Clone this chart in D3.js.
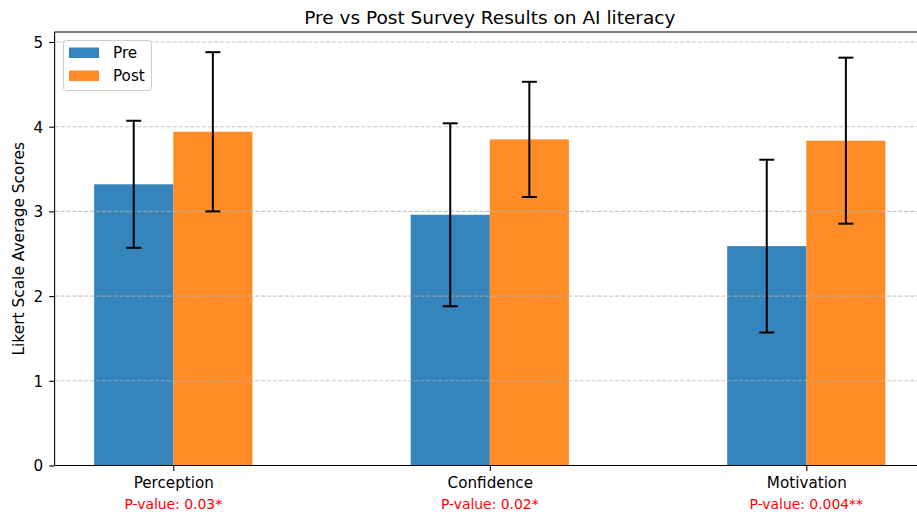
<!DOCTYPE html>
<html>
<head>
<meta charset="utf-8">
<script src="https://cdn.jsdelivr.net/npm/d3@7"></script>
<style>
  html, body { margin: 0; padding: 0; background: #fff; overflow: hidden; }
  svg { display: block; font-family: "DejaVu Sans", sans-serif; }
</style>
</head>
<body>
<svg id="chart" width="917" height="515"></svg>
<script>
// Survey categories and their p-value annotations
const categories = ["Perception", "Confidence", "Motivation"];
const pLabels = ["P-value: 0.03*", "P-value: 0.02*", "P-value: 0.004**"];

// Mean Likert scores and standard deviations
const preMeans = [3.32, 2.96, 2.59];
const preSD = [0.75, 1.08, 1.02];
const postMeans = [3.94, 3.85, 3.835];
const postSD = [0.94, 0.68, 0.98];

const yTicks = [0, 1, 2, 3, 4, 5];
const seriesNames = ["Pre", "Post"];

const colors = { Pre: "#1f77b4", Post: "#ff7f0e" };
const barWidth = 0.25;

const svg = d3.select("#chart");
const plotL = 54.6, plotR = 925, plotT = 32, plotB = 465.5;
const tickFont = 15.2;

// numeric band positions, matplotlib-style margins
const x = d3.scaleLinear().domain([-0.375, 2.375]).range([plotL, plotR]);
const y = d3.scaleLinear().domain([0, 5.118]).range([plotB, plotT]);

const series = [
  { name: "Pre", means: preMeans, sd: preSD, offset: -barWidth / 2 },
  { name: "Post", means: postMeans, sd: postSD, offset: barWidth / 2 }
];

// bars
series.forEach(s => {
  svg.append("g").selectAll("rect")
    .data(s.means)
    .join("rect")
    .attr("x", (d, i) => x(i + s.offset - barWidth / 2))
    .attr("width", x(barWidth) - x(0))
    .attr("y", d => y(d))
    .attr("height", d => y(0) - y(d))
    .attr("fill", colors[s.name])
    .attr("fill-opacity", 0.9);
});

// horizontal dashed grid
svg.append("g").selectAll("line")
  .data(yTicks)
  .join("line")
  .attr("x1", plotL).attr("x2", plotR)
  .attr("y1", d => y(d)).attr("y2", d => y(d))
  .attr("stroke", "#b0b0b0")
  .attr("stroke-opacity", 0.7)
  .attr("stroke-width", 1.1)
  .attr("stroke-dasharray", "4.1,1.8");

// error bars
const cap = 7.5;
series.forEach(s => {
  const g = svg.append("g").attr("stroke", "#000");
  s.means.forEach((m, i) => {
    const cx = x(i + s.offset);
    const y1 = y(m + s.sd[i]), y0 = y(m - s.sd[i]);
    g.append("line").attr("x1", cx).attr("x2", cx).attr("y1", y1).attr("y2", y0)
      .attr("stroke-width", 2);
    g.append("line").attr("x1", cx - cap).attr("x2", cx + cap).attr("y1", y1).attr("y2", y1)
      .attr("stroke-width", 2);
    g.append("line").attr("x1", cx - cap).attr("x2", cx + cap).attr("y1", y0).attr("y2", y0)
      .attr("stroke-width", 2);
  });
});

// y axis
const yAxis = d3.axisLeft(y).tickValues(yTicks).tickFormat(d3.format("d"))
  .tickSize(5.4).tickPadding(6);
const gy = svg.append("g").attr("transform", `translate(${plotL},0)`).call(yAxis);
gy.select(".domain").remove();
gy.selectAll(".tick line").attr("stroke", "#000").attr("stroke-width", 1.1);
gy.selectAll(".tick text").attr("font-size", tickFont).attr("fill", "#000")
  .attr("font-family", "DejaVu Sans").attr("dy", "0.35em");

// x axis
const xAxis = d3.axisBottom(x).tickValues(d3.range(categories.length))
  .tickFormat(i => categories[i]).tickSize(5.4).tickPadding(5);
const gx = svg.append("g").attr("transform", `translate(0,${plotB})`).call(xAxis);
gx.select(".domain").remove();
gx.selectAll(".tick line").attr("stroke", "#000").attr("stroke-width", 1.1);
gx.selectAll(".tick text").attr("font-size", tickFont).attr("fill", "#000")
  .attr("font-family", "DejaVu Sans").attr("y", 22.6).attr("dy", 0);

// spines
const spine = svg.append("g").attr("stroke", "#000").attr("stroke-width", 1.1);
spine.append("line").attr("x1", plotL).attr("x2", plotL).attr("y1", plotT).attr("y2", plotB);
spine.append("line").attr("x1", plotL).attr("x2", plotR).attr("y1", plotB).attr("y2", plotB);
spine.append("line").attr("x1", plotL).attr("x2", plotR).attr("y1", plotT).attr("y2", plotT);
spine.append("line").attr("x1", plotR).attr("x2", plotR).attr("y1", plotT).attr("y2", plotB);

// p-value annotations
svg.append("g").selectAll("text")
  .data(pLabels)
  .join("text")
  .attr("x", (d, i) => x(i))
  .attr("y", 509.2)
  .attr("text-anchor", "middle")
  .attr("font-size", 13.9)
  .attr("fill", "#ff0000")
  .text(d => d);

// title
svg.append("text")
  .attr("x", (plotL + plotR) / 2)
  .attr("y", 23.5)
  .attr("text-anchor", "middle")
  .attr("font-size", 18.5)
  .attr("fill", "#000")
  .text("Pre vs Post Survey Results on AI literacy");

// y label
svg.append("text")
  .attr("transform", `translate(23.8,${(plotT + plotB) / 2}) rotate(-90)`)
  .attr("text-anchor", "middle")
  .attr("font-size", 15.4)
  .attr("fill", "#000")
  .text("Likert Scale Average Scores");

// legend
const lg = svg.append("g").attr("transform", "translate(63.5,40.5)");
lg.append("rect").attr("width", 88).attr("height", 50).attr("rx", 3)
  .attr("fill", "#fff").attr("fill-opacity", 0.8)
  .attr("stroke", "#cccccc").attr("stroke-width", 1);
seriesNames.forEach((n, i) => {
  lg.append("rect").attr("x", 5.5).attr("y", 7 + i * 23).attr("width", 30).attr("height", 10.5)
    .attr("fill", colors[n]).attr("fill-opacity", 0.9);
  lg.append("text").attr("x", 49.5).attr("y", 17.5 + i * 23)
    .attr("font-size", tickFont).attr("fill", "#000").text(n);
});
</script>
</body>
</html>
